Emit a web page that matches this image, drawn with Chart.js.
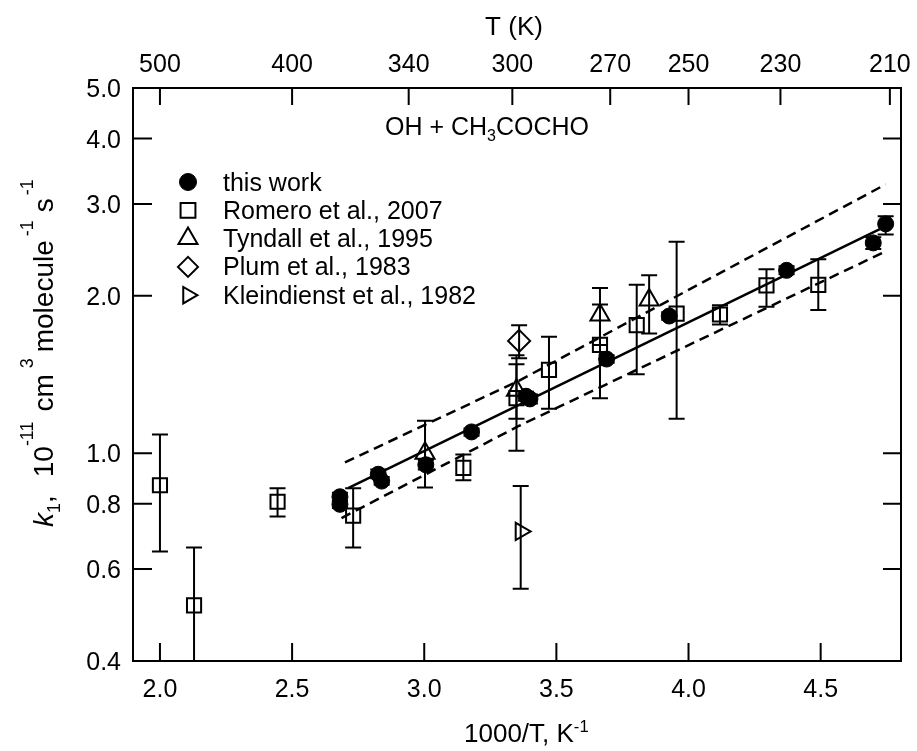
<!DOCTYPE html>
<html>
<head>
<meta charset="utf-8">
<title>OH + CH3COCHO</title>
<script src="https://cdn.jsdelivr.net/npm/chart.js@4.4.0/dist/chart.umd.min.js"></script>
<style>
  html, body { margin: 0; padding: 0; background: #fff; }
  #wrap { width: 917px; height: 751px; }
</style>
</head>
<body>
<div id="wrap"><canvas id="rateChart" width="917" height="751"></canvas></div>
<script>
// k1 (OH + CH3COCHO) vs 1000/T, log y, temperature axis on top

const FONT = '"Liberation Sans", Arial, Helvetica, sans-serif';

// axis ticks
const xTicks = [2.0, 2.5, 3.0, 3.5, 4.0, 4.5];
const yTicks = [0.4, 0.6, 0.8, 1.0, 2.0, 3.0, 4.0, 5.0];
const tempTicks = [500, 400, 340, 300, 270, 250, 230, 210];

// this work
const workX  = [2.681, 2.681, 2.826, 2.839, 3.006, 3.179, 3.385, 3.400, 3.690, 3.927, 4.371, 4.699, 4.746];
const workY  = [0.825, 0.798, 0.911, 0.884, 0.950, 1.098, 1.285, 1.270, 1.514, 1.830, 2.238, 2.526, 2.747];
const workLo = [0.810, 0.785, 0.895, 0.870, 0.930, 1.080, 1.260, 1.245, 1.490, 1.800, 2.200, 2.460, 2.620];
const workHi = [0.840, 0.810, 0.930, 0.900, 0.970, 1.115, 1.310, 1.295, 1.540, 1.860, 2.280, 2.590, 2.840];

// Romero et al., 2007
const romeroX  = [2.000, 2.129, 2.445, 2.731, 3.148, 3.349, 3.472, 3.665, 3.804, 3.955, 4.119, 4.295, 4.491];
const romeroY  = [0.868, 0.511, 0.807, 0.759, 0.937, 1.274, 1.443, 1.611, 1.758, 1.850, 1.842, 2.095, 2.100];
const romeroLo = [0.648, 0.360, 0.756, 0.660, 0.887, 1.010, 1.216, 1.274, 1.415, 1.164, 1.763, 1.906, 1.880];
const romeroHi = [1.085, 0.660, 0.857, 0.857, 0.994, 1.540, 1.670, 1.925, 2.100, 2.540, 1.920, 2.250, 2.350];

// Tyndall et al., 1995
const tyndallX  = [3.003, 3.349, 3.665, 3.851];
const tyndallY  = [1.000, 1.320, 1.838, 1.963];
const tyndallLo = [0.859, 1.164, 1.610, 1.695];
const tyndallHi = [1.154, 1.480, 2.070, 2.190];

// Plum et al., 1983
const plumX  = [3.359];
const plumY  = [1.640];
const plumLo = [1.520];
const plumHi = [1.757];

// Kleindienst et al., 1982
const kleinX  = [3.365];
const kleinY  = [0.708];
const kleinLo = [0.550];
const kleinHi = [0.865];

// Arrhenius fit and uncertainty bounds
const fitX   = [2.712, 4.753];
const fitY   = [0.857, 2.730];
const upperX = [2.700, 3.356, 4.746];
const upperY = [0.960, 1.374, 3.270];
const lowerX = [2.687, 3.356, 4.743];
const lowerY = [0.751, 1.126, 2.430];

const legendItems = [
  { label: 'this work',                style: 'circle',   radius: 8.5, rotation: 0,  filled: true },
  { label: 'Romero et al., 2007',      style: 'rect',     radius: 10.5, rotation: 0, filled: false },
  { label: 'Tyndall et al., 1995',     style: 'triangle', radius: 11, rotation: 0,   filled: false },
  { label: 'Plum et al., 1983',        style: 'rectRot',  radius: 10, rotation: 0,   filled: false },
  { label: 'Kleindienst et al., 1982', style: 'triangle', radius: 9.5, rotation: 90, filled: false }
];

const errorSeries = [
  { xs: workX,    lo: workLo,    hi: workHi },
  { xs: romeroX,  lo: romeroLo,  hi: romeroHi },
  { xs: tyndallX, lo: tyndallLo, hi: tyndallHi },
  { xs: plumX,    lo: plumLo,    hi: plumHi },
  { xs: kleinX,   lo: kleinLo,   hi: kleinHi }
];

function pts(xs, ys) {
  return xs.map((x, i) => ({ x: x, y: ys[i] }));
}

function markerSet(label, xs, ys, style, radius, rotation, filled) {
  return {
    label: label,
    data: pts(xs, ys),
    showLine: false,
    pointStyle: style,
    pointRadius: radius,
    pointRotation: rotation,
    pointBackgroundColor: filled ? '#000' : 'rgba(0,0,0,0)',
    pointBorderColor: '#000',
    pointBorderWidth: filled ? 1 : 2
  };
}

function lineSet(label, xs, ys, dash) {
  return {
    label: label,
    data: pts(xs, ys),
    showLine: true,
    fill: false,
    tension: 0,
    borderColor: '#000',
    borderWidth: 2.5,
    borderDash: dash,
    pointRadius: 0
  };
}

// text with sub/superscripts, drawn left to right from (x, y) baseline
function drawRich(ctx, x, y, parts, size, supRaise) {
  let cx = x;
  parts.forEach(p => {
    const s = (p.sup || p.sub) ? size * 0.64 : size;
    ctx.font = (p.italic ? 'italic ' : '') + s + 'px ' + FONT;
    const dy = p.sup ? -size * supRaise : (p.sub ? size * 0.24 : 0);
    ctx.fillText(p.t, cx, y + dy);
    cx += ctx.measureText(p.t).width + (p.gap || 0);
  });
}

function drawMarker(ctx, item, x, y) {
  ctx.save();
  ctx.strokeStyle = '#000';
  ctx.fillStyle = item.filled ? '#000' : 'rgba(0,0,0,0)';
  ctx.lineWidth = item.filled ? 1 : 2;
  const opts = { pointStyle: item.style, radius: item.radius, rotation: item.rotation, borderWidth: ctx.lineWidth };
  if (Chart.helpers && Chart.helpers.drawPoint) {
    Chart.helpers.drawPoint(ctx, opts, x, y);
  } else {
    ctx.beginPath();
    ctx.arc(x, y, item.radius, 0, Math.PI * 2);
    if (item.filled) ctx.fill();
    ctx.stroke();
  }
  ctx.restore();
}

const framePlugin = {
  id: 'framePlugin',
  beforeDatasetsDraw(chart) {
    const ctx = chart.ctx, a = chart.chartArea;
    const xs = chart.scales.x, ys = chart.scales.y;
    ctx.save();
    ctx.beginPath();
    ctx.rect(a.left, a.top, a.right - a.left, a.bottom - a.top);
    ctx.clip();
    ctx.strokeStyle = '#000';
    ctx.lineWidth = 2;
    const cap = 8;
    errorSeries.forEach(s => {
      s.xs.forEach((xv, i) => {
        const px = xs.getPixelForValue(xv);
        const pLo = ys.getPixelForValue(s.lo[i]);
        const pHi = ys.getPixelForValue(s.hi[i]);
        ctx.beginPath();
        ctx.moveTo(px, pLo); ctx.lineTo(px, pHi);
        ctx.moveTo(px - cap, pLo); ctx.lineTo(px + cap, pLo);
        ctx.moveTo(px - cap, pHi); ctx.lineTo(px + cap, pHi);
        ctx.stroke();
      });
    });
    ctx.restore();
  },
  afterDraw(chart) {
    const ctx = chart.ctx, a = chart.chartArea;
    const xs = chart.scales.x, ys = chart.scales.y;
    ctx.save();
    ctx.strokeStyle = '#000';
    ctx.fillStyle = '#000';
    ctx.lineWidth = 2;
    ctx.strokeRect(a.left, a.top, a.right - a.left, a.bottom - a.top);

    // inward ticks
    const tk = 18;
    ctx.beginPath();
    xTicks.forEach(v => {
      const px = xs.getPixelForValue(v);
      ctx.moveTo(px, a.bottom); ctx.lineTo(px, a.bottom - tk);
    });
    tempTicks.forEach(t => {
      const px = xs.getPixelForValue(1000 / t);
      ctx.moveTo(px, a.top); ctx.lineTo(px, a.top + tk - 1);
    });
    yTicks.forEach(v => {
      const py = ys.getPixelForValue(v);
      ctx.moveTo(a.left, py); ctx.lineTo(a.left + tk + 1, py);
      ctx.moveTo(a.right, py); ctx.lineTo(a.right - tk, py);
    });
    ctx.stroke();

    // tick labels
    ctx.font = '25px ' + FONT;
    ctx.textBaseline = 'alphabetic';
    ctx.textAlign = 'center';
    xTicks.forEach(v => ctx.fillText(v.toFixed(1), xs.getPixelForValue(v), 697));
    tempTicks.forEach(t => ctx.fillText(String(t), xs.getPixelForValue(1000 / t), 72));
    ctx.textAlign = 'right';
    yTicks.forEach(v => ctx.fillText(v.toFixed(1), a.left - 12, ys.getPixelForValue(v) + 9));

    // axis titles
    ctx.textAlign = 'center';
    ctx.font = '26px ' + FONT;
    ctx.fillText('T (K)', (a.left + a.right) / 2 - 3, 35);

    ctx.textAlign = 'left';
    drawRich(ctx, 464, 742, [
      { t: '1000/T, K' },
      { t: '-1', sup: true }
    ], 26, 0.4);

    ctx.save();
    ctx.translate(53, 527);
    ctx.rotate(-Math.PI / 2);
    drawRich(ctx, 0, 0, [
      { t: 'k', italic: true },
      { t: '1', sub: true },
      { t: ',', gap: 18 },
      { t: '10' },
      { t: '-11', sup: true, gap: 10 },
      { t: 'cm', gap: 6 },
      { t: '3', sup: true, gap: 6 },
      { t: 'molecule', gap: 4 },
      { t: '-1', sup: true, gap: 8 },
      { t: 's', gap: 3 },
      { t: '-1', sup: true }
    ], 28, 0.72);
    ctx.restore();

    // reaction label
    drawRich(ctx, 385, 135, [
      { t: 'OH + CH' },
      { t: '3', sub: true },
      { t: 'COCHO' }
    ], 25, 0.4);

    // legend
    ctx.font = '25px ' + FONT;
    legendItems.forEach((item, i) => {
      const ly = 182 + i * 28.3;
      drawMarker(ctx, item, 188, ly);
      ctx.fillStyle = '#000';
      ctx.fillText(item.label, 223, ly + 8.5);
    });
    ctx.restore();
  }
};

const ctxRate = document.getElementById('rateChart').getContext('2d');
const rateChart = new Chart(ctxRate, {
  type: 'scatter',
  data: {
    datasets: [
      markerSet('this work', workX, workY, 'circle', 8, 0, true),
      markerSet('Romero et al., 2007', romeroX, romeroY, 'rect', 10, 0, false),
      markerSet('Tyndall et al., 1995', tyndallX, tyndallY, 'triangle', 11, 0, false),
      markerSet('Plum et al., 1983', plumX, plumY, 'rectRot', 11, 0, false),
      markerSet('Kleindienst et al., 1982', kleinX, kleinY, 'triangle', 10, 90, false),
      lineSet('fit', fitX, fitY, []),
      lineSet('upper', upperX, upperY, [10, 6]),
      lineSet('lower', lowerX, lowerY, [10, 6])
    ]
  },
  options: {
    responsive: false,
    animation: false,
    events: [],
    layout: { padding: { left: 133, top: 88, right: 16, bottom: 90 } },
    scales: {
      x: { type: 'linear', min: 1.898, max: 4.804, display: false },
      y: { type: 'logarithmic', min: 0.4, max: 5.0, display: false }
    },
    plugins: {
      legend: { display: false },
      tooltip: { enabled: false }
    }
  },
  plugins: [framePlugin]
});
</script>
</body>
</html>
